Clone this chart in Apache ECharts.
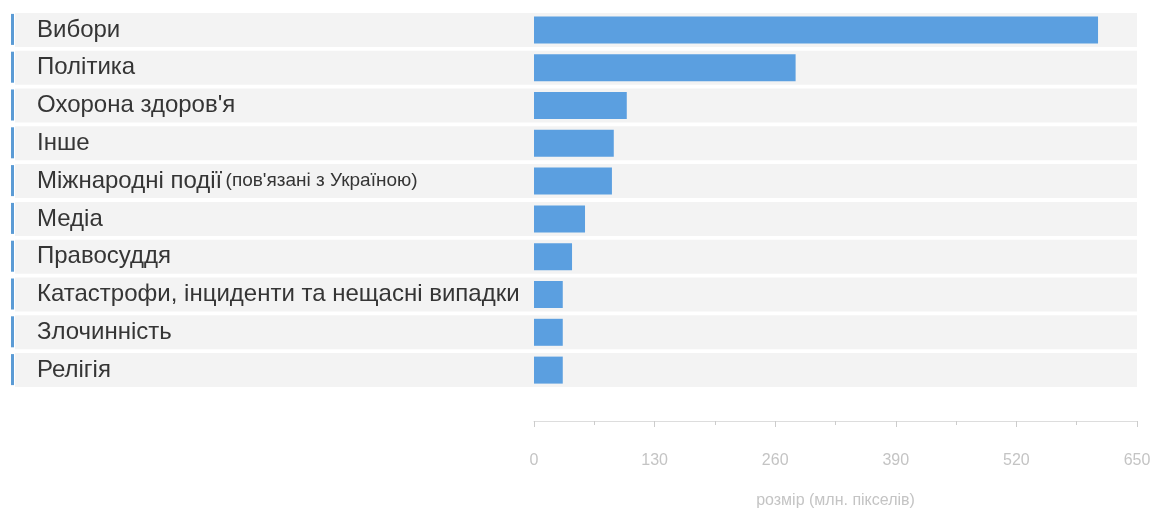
<!DOCTYPE html>
<html>
<head>
<meta charset="utf-8">
<script src="https://cdn.jsdelivr.net/npm/echarts@6/dist/echarts.min.js"></script>
<style>
html,body{margin:0;padding:0;background:#fff;}
#chart{width:1154px;height:512px;}
</style>
</head>
<body>
<div id="chart"></div>
<script>
const categories = [
  "Вибори",
  "Політика",
  "Охорона здоров'я",
  "Інше",
  "Міжнародні події (пов'язані з Україною)",
  "Медіа",
  "Правосуддя",
  "Катастрофи, інциденти та нещасні випадки",
  "Злочинність",
  "Релігія"
];
const values = [608, 282, 100, 86, 84, 55, 41, 31, 31, 31];
const axisTicks = [0, 130, 260, 390, 520, 650];
const axisTitle = "розмір (млн. пікселів)";

const chart = echarts.init(document.getElementById('chart'));

function bandItem(params, api) {
  const cs = params.coordSys;
  const c = api.coord([0, api.value(1)]);
  const h = api.size([0, 1])[1] * 0.9;
  const right = cs.x + cs.width;
  return {
    type: 'group',
    children: [
      { type: 'rect', shape: { x: 15, y: c[1] - h / 2, width: right - 15, height: h },
        style: { fill: '#f3f3f3' } },
      { type: 'rect', shape: { x: 11, y: c[1] - h / 2 + 1, width: 3, height: h - 3 },
        style: { fill: '#5b9bd5' } }
    ]
  };
}

chart.setOption({
  animation: false,
  grid: { left: 534, right: 17, top: 11, bottom: 123, containLabel: false, outerBoundsMode: 'none' },
  xAxis: {
    type: 'value',
    min: axisTicks[0],
    max: axisTicks[axisTicks.length - 1],
    interval: axisTicks[1] - axisTicks[0],
    offset: 32,
    name: axisTitle,
    nameLocation: 'middle',
    nameGap: 72,
    nameTextStyle: { color: '#c4c4c4', fontSize: 16, fontFamily: 'Liberation Sans' },
    axisLine: { show: true, lineStyle: { color: '#dddddd' } },
    axisTick: { show: true, length: 6, lineStyle: { color: '#cccccc' } },
    minorTick: { show: true, splitNumber: 2, length: 4, lineStyle: { color: '#cccccc' } },
    axisLabel: { color: '#c4c4c4', fontSize: 16, margin: 32, fontFamily: 'Liberation Sans' },
    splitLine: { show: false }
  },
  yAxis: {
    type: 'category',
    data: categories,
    inverse: true,
    z: 5,
    axisLine: { show: false },
    axisTick: { show: false },
    axisLabel: {
      align: 'left',
      margin: 497,
      formatter: function (v) {
        const i = v.indexOf(' (');
        if (i >= 0) return '{a|' + v.slice(0, i) + '} {b|' + v.slice(i + 1) + '}';
        return '{a|' + v + '}';
      },
      rich: {
        a: { fontSize: 24, color: '#353535', fontFamily: 'Liberation Sans' },
        b: { fontSize: 19, color: '#353535', fontFamily: 'Liberation Sans' }
      }
    }
  },
  series: [
    {
      type: 'custom',
      z: 0,
      clip: false,
      silent: true,
      renderItem: bandItem,
      encode: { x: 0, y: 1 },
      data: categories.map(function (c) { return [0, c]; })
    },
    {
      type: 'bar',
      z: 3,
      data: values,
      barWidth: 27,
      itemStyle: { color: '#5b9fe0' }
    }
  ]
});
</script>
</body>
</html>
